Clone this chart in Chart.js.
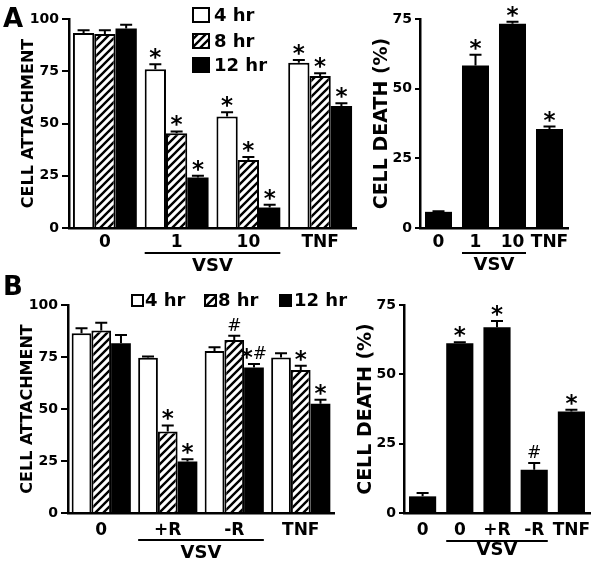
<!DOCTYPE html>
<html><head><meta charset="utf-8">
<script src="https://cdn.jsdelivr.net/npm/chart.js@4.4.1/dist/chart.umd.min.js"></script>
<style>
html,body{margin:0;padding:0;background:#fff;}
#wrap{position:relative;width:600px;height:563px;overflow:hidden;}
canvas{position:absolute;left:0;top:0;}
</style></head><body>
<div id="wrap">
<canvas id="cA1" width="600" height="563"></canvas>
<canvas id="cA2" width="600" height="563"></canvas>
<canvas id="cB1" width="600" height="563"></canvas>
<canvas id="cB2" width="600" height="563"></canvas>
</div>
<script>
// ---------- data ----------
const seriesLabels = ['4 hr', '8 hr', '12 hr'];

// Panel A, left: cell attachment
const catsA1 = ['0', '1', '10', 'TNF'];
const attachA_4hr  = [93.3, 76.0, 53.3, 79.1];
const attachA_8hr  = [92.8, 45.3, 32.5, 72.7];
const attachA_12hr = [95.5, 24.2, 9.8, 58.4];
const errA_4hr  = [1.3, 2.4, 2.1, 1.3];
const errA_8hr  = [1.8, 0.9, 1.5, 1.3];
const errA_12hr = [1.8, 0.8, 1.3, 1.3];
const markA_4hr  = ['', '*', '*', '*'];
const markA_8hr  = ['', '*', '*', '*'];
const markA_12hr = ['', '*', '*', '*'];

// Panel A, right: cell death
const catsA2 = ['0', '1', '10', 'TNF'];
const deathA = [5.8, 58.3, 73.3, 35.5];
const errDeathA = [0.2, 3.9, 0.7, 0.9];
const markDeathA = ['', '*', '*', '*'];

// Panel B, left: cell attachment
const catsB1 = ['0', '+R', '-R', 'TNF'];
const attachB_4hr  = [86.4, 74.6, 77.9, 74.7];
const attachB_8hr  = [87.7, 39.2, 83.2, 68.8];
const attachB_12hr = [81.6, 24.8, 70.0, 52.5];
const errB_4hr  = [2.4, 0.6, 1.8, 2.1];
const errB_8hr  = [3.8, 2.9, 2.0, 2.0];
const errB_12hr = [4.0, 1.1, 1.6, 1.9];
const markB_4hr  = ['', '', '', ''];
const markB_8hr  = ['', '*', '#', '*'];
const markB_12hr = ['', '*', '*#', '*'];

// Panel B, right: cell death
const catsB2 = ['0', '0', '+R', '-R', 'TNF'];
const deathB = [6.0, 61.2, 67.0, 15.6, 36.6];
const errDeathB = [1.2, 0.4, 2.2, 2.4, 0.6];
const markDeathB = ['', '*', '*', '#', '*'];

const attachTicks = [0, 25, 50, 75, 100];
const deathTicks = [0, 25, 50, 75];

// ---------- styling helpers ----------
const FONT = "'DejaVu Sans', sans-serif";

function hatchPattern() {
  const s = 8;
  const c = document.createElement('canvas');
  c.width = s; c.height = s;
  const x = c.getContext('2d');
  x.fillStyle = '#fff'; x.fillRect(0, 0, s, s);
  x.strokeStyle = '#000'; x.lineWidth = 2.4;
  x.beginPath();
  x.moveTo(0, s); x.lineTo(s, 0);
  x.moveTo(-1, 1); x.lineTo(1, -1);
  x.moveTo(s - 1, s + 1); x.lineTo(s + 1, s - 1);
  x.stroke();
  return x.createPattern(c, 'repeat');
}
const HATCH = hatchPattern();
const fills = ['#ffffff', HATCH, '#000000'];

function drawMark(ctx, m, cx, top) {
  const parts = m.split('').map(ch => ch === '*'
    ? {ch, font: 'bold 23px ' + FONT, dy: 4}
    : {ch, font: '17px ' + FONT, dy: -2});
  let total = 0;
  parts.forEach(p => { ctx.font = p.font; p.w = ctx.measureText(p.ch).width; total += p.w; });
  let x = cx - total / 2;
  ctx.textAlign = 'left'; ctx.textBaseline = 'alphabetic';
  parts.forEach(p => { ctx.font = p.font; ctx.fillText(p.ch, x, top + p.dy); x += p.w; });
}

const annot = {
  id: 'annot',
  afterDatasetsDraw(chart, args, o) {
    const ctx = chart.ctx, ys = chart.scales.y;
    ctx.save();
    ctx.strokeStyle = '#000'; ctx.fillStyle = '#000'; ctx.lineWidth = 2;
    (o.errors || []).forEach((errs, d) => {
      const meta = chart.getDatasetMeta(d);
      const vals = chart.data.datasets[d].data;
      errs.forEach((e, i) => {
        const el = meta.data[i];
        const top = ys.getPixelForValue(vals[i] + e);
        ctx.beginPath();
        ctx.moveTo(el.x, el.y); ctx.lineTo(el.x, top);
        ctx.moveTo(el.x - o.cap, top); ctx.lineTo(el.x + o.cap, top);
        ctx.stroke();
        const m = (o.marks[d] || [])[i];
        if (m) drawMark(ctx, m, el.x, top - 3);
      });
    });
    if (o.bracket) {
      const b = o.bracket;
      const n = chart.data.datasets.length;
      const e0 = chart.getDatasetMeta(0).data[b.first];
      const e1 = chart.getDatasetMeta(n - 1).data[b.last];
      const l = e0.x - e0.width / 2, r = e1.x + e1.width / 2;
      ctx.beginPath(); ctx.moveTo(l, b.lineY); ctx.lineTo(r, b.lineY); ctx.stroke();
      ctx.font = 'bold ' + b.size + 'px ' + FONT;
      ctx.textAlign = 'center'; ctx.textBaseline = 'middle';
      ctx.fillText(b.text, (l + r) / 2 + (b.dx || 0), b.textY);
    }
    if (o.letter) {
      ctx.font = 'bold 26px ' + FONT;
      ctx.textAlign = 'left'; ctx.textBaseline = 'alphabetic';
      ctx.fillText(o.letter.text, o.letter.x, o.letter.y);
    }
    if (o.legend) {
      o.legend.forEach((it, d) => {
        const ds = chart.data.datasets[d];
        ctx.fillStyle = ds.backgroundColor;
        ctx.fillRect(it.x, it.y, it.w, it.h);
        ctx.lineWidth = 2; ctx.strokeStyle = '#000';
        ctx.strokeRect(it.x + 1, it.y + 1, it.w - 2, it.h - 2);
        ctx.fillStyle = '#000';
        ctx.font = 'bold ' + it.size + 'px ' + FONT;
        ctx.textAlign = 'left'; ctx.textBaseline = 'middle';
        ctx.fillText(ds.label, it.tx, it.y + it.h / 2 + 1);
      });
    }
    ctx.restore();
  }
};

function makeChart(id, cfg) {
  const datasets = cfg.series.map((s, d) => ({
    label: s.label,
    data: s.data,
    backgroundColor: s.fill,
    borderColor: '#000',
    borderWidth: s.fill === '#000000' ? 0 : 2,
    borderSkipped: 'bottom',
    categoryPercentage: cfg.catPct,
    barPercentage: 1
  }));
  return new Chart(document.getElementById(id), {
    type: 'bar',
    data: {labels: cfg.labels, datasets},
    plugins: [annot],
    options: {
      responsive: false,
      animation: false,
      events: [],
      layout: {padding: cfg.pad},
      plugins: {
        legend: {display: false},
        tooltip: {enabled: false},
        annot: cfg.annot
      },
      scales: {
        x: {
          ticks: {color: '#000', font: {family: FONT, size: 17, weight: 'bold'}, padding: cfg.xPad, maxRotation: 0, autoSkip: false},
          grid: {display: false, drawTicks: false},
          border: {display: true, color: '#000', width: 2.5},
          afterFit: s => { s.height = 30; }
        },
        y: {
          min: 0, max: cfg.max,
          afterBuildTicks: s => { s.ticks = cfg.ticks.map(v => ({value: v})); },
          ticks: {color: '#000', font: {family: FONT, size: 14, weight: 'bold'}, padding: 3},
          grid: {display: true, drawOnChartArea: false, drawTicks: true, tickLength: cfg.tickLen, color: '#000', lineWidth: 2},
          border: {display: true, color: '#000', width: 2.5},
          title: {display: true, text: cfg.yTitle, color: '#000', font: {family: FONT, size: cfg.titleSize, weight: 'bold', lineHeight: 1}, padding: {top: 0, bottom: 0}},
          afterFit: s => { s.width = cfg.yWidth; }
        }
      }
    }
  });
}

// Panel A left
makeChart('cA1', {
  labels: catsA1,
  series: [
    {label: seriesLabels[0], data: attachA_4hr, fill: fills[0]},
    {label: seriesLabels[1], data: attachA_8hr, fill: fills[1]},
    {label: seriesLabels[2], data: attachA_12hr, fill: fills[2]}
  ],
  catPct: 0.89, max: 100, ticks: attachTicks, tickLen: 7, xPad: 4,
  yTitle: 'CELL ATTACHMENT', titleSize: 16,
  pad: {left: 20.5, right: 244, top: 19, bottom: 305}, yWidth: 48.5,
  annot: {
    cap: 6,
    errors: [errA_4hr, errA_8hr, errA_12hr],
    marks: [markA_4hr, markA_8hr, markA_12hr],
    bracket: {first: 1, last: 2, lineY: 253, textY: 266, text: 'VSV', size: 18},
    letter: {text: 'A', x: 3, y: 27},
    legend: [
      {x: 192, y: 7, w: 18, h: 16, tx: 214, size: 18},
      {x: 192, y: 33, w: 18, h: 16, tx: 214, size: 18},
      {x: 192, y: 57, w: 18, h: 16, tx: 214, size: 18}
    ]
  }
});

// Panel A right
makeChart('cA2', {
  labels: catsA2,
  series: [{label: 'death', data: deathA, fill: fills[2]}],
  catPct: 0.73, max: 75, ticks: deathTicks, tickLen: 5, xPad: 4,
  yTitle: 'CELL DEATH (%)', titleSize: 19,
  pad: {left: 372.5, right: 32, top: 19, bottom: 305}, yWidth: 47.5,
  annot: {
    cap: 6,
    errors: [errDeathA],
    marks: [markDeathA],
    bracket: {first: 1, last: 2, lineY: 253, textY: 265, text: 'VSV', size: 18}
  }
});

// Panel B left
makeChart('cB1', {
  labels: catsB1,
  series: [
    {label: seriesLabels[0], data: attachB_4hr, fill: fills[0]},
    {label: seriesLabels[1], data: attachB_8hr, fill: fills[1]},
    {label: seriesLabels[2], data: attachB_12hr, fill: fills[2]}
  ],
  catPct: 0.89, max: 100, ticks: attachTicks, tickLen: 7, xPad: 7,
  yTitle: 'CELL ATTACHMENT', titleSize: 16,
  pad: {left: 19.5, right: 266, top: 305, bottom: 20}, yWidth: 48.5,
  annot: {
    cap: 6,
    errors: [errB_4hr, errB_8hr, errB_12hr],
    marks: [markB_4hr, markB_8hr, markB_12hr],
    bracket: {first: 1, last: 2, lineY: 540, textY: 553, text: 'VSV', size: 18},
    letter: {text: 'B', x: 3, y: 295},
    legend: [
      {x: 131, y: 294, w: 13, h: 13, tx: 145, size: 18},
      {x: 204, y: 294, w: 13, h: 13, tx: 218, size: 18},
      {x: 279, y: 294, w: 13, h: 13, tx: 294, size: 18}
    ]
  }
});

// Panel B right
makeChart('cB2', {
  labels: catsB2,
  series: [{label: 'death', data: deathB, fill: fills[2]}],
  catPct: 0.73, max: 75, ticks: deathTicks, tickLen: 5, xPad: 7,
  yTitle: 'CELL DEATH (%)', titleSize: 19,
  pad: {left: 357, right: 10, top: 305, bottom: 20}, yWidth: 47,
  annot: {
    cap: 6,
    errors: [errDeathB],
    marks: [markDeathB],
    bracket: {first: 1, last: 3, lineY: 541, textY: 550, text: 'VSV', size: 18}
  }
});
</script>
</body></html>
